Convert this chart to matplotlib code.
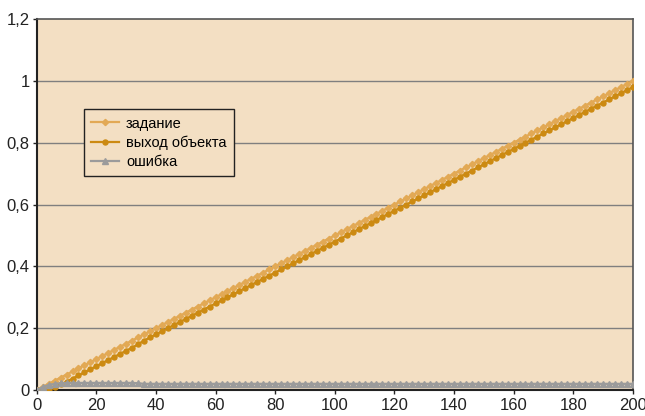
import matplotlib
matplotlib.use("Agg")
import matplotlib.pyplot as plt

plt.rcParams['font.family'] = ['Liberation Sans', 'DejaVu Sans']

# ось времени (шаг 2)
t = list(range(0, 201, 2))

# задание (линейный рост)
zadanie = [
    0.00, 0.01, 0.02, 0.03, 0.04, 0.05, 0.06, 0.07, 0.08, 0.09,
    0.10, 0.11, 0.12, 0.13, 0.14, 0.15, 0.16, 0.17, 0.18, 0.19,
    0.20, 0.21, 0.22, 0.23, 0.24, 0.25, 0.26, 0.27, 0.28, 0.29,
    0.30, 0.31, 0.32, 0.33, 0.34, 0.35, 0.36, 0.37, 0.38, 0.39,
    0.40, 0.41, 0.42, 0.43, 0.44, 0.45, 0.46, 0.47, 0.48, 0.49,
    0.50, 0.51, 0.52, 0.53, 0.54, 0.55, 0.56, 0.57, 0.58, 0.59,
    0.60, 0.61, 0.62, 0.63, 0.64, 0.65, 0.66, 0.67, 0.68, 0.69,
    0.70, 0.71, 0.72, 0.73, 0.74, 0.75, 0.76, 0.77, 0.78, 0.79,
    0.80, 0.81, 0.82, 0.83, 0.84, 0.85, 0.86, 0.87, 0.88, 0.89,
    0.90, 0.91, 0.92, 0.93, 0.94, 0.95, 0.96, 0.97, 0.98, 0.99,
    1.00,
]

# ошибка
oshibka = [
    0.000, 0.010, 0.016, 0.020, 0.022, 0.023, 0.023, 0.023, 0.023, 0.023,
    0.023, 0.023, 0.023, 0.023, 0.023, 0.023, 0.023, 0.022, 0.020, 0.020,
    0.020, 0.020, 0.020, 0.020, 0.020, 0.020, 0.020, 0.020, 0.020, 0.020,
    0.020, 0.020, 0.020, 0.020, 0.020, 0.020, 0.020, 0.020, 0.020, 0.020,
    0.020, 0.020, 0.020, 0.020, 0.020, 0.020, 0.020, 0.020, 0.020, 0.020,
    0.020, 0.020, 0.020, 0.020, 0.020, 0.020, 0.020, 0.020, 0.020, 0.020,
    0.020, 0.020, 0.020, 0.020, 0.020, 0.020, 0.020, 0.020, 0.020, 0.020,
    0.020, 0.020, 0.020, 0.020, 0.020, 0.020, 0.020, 0.020, 0.020, 0.020,
    0.020, 0.020, 0.020, 0.020, 0.020, 0.020, 0.020, 0.020, 0.020, 0.020,
    0.020, 0.020, 0.020, 0.020, 0.020, 0.020, 0.020, 0.020, 0.020, 0.020,
    0.020,
]

# выход объекта
vyhod = [
    0.000, 0.000, 0.004, 0.010, 0.018, 0.027, 0.037, 0.047, 0.057, 0.067,
    0.077, 0.087, 0.097, 0.107, 0.117, 0.127, 0.137, 0.148, 0.160, 0.170,
    0.180, 0.190, 0.200, 0.210, 0.220, 0.230, 0.240, 0.250, 0.260, 0.270,
    0.280, 0.290, 0.300, 0.310, 0.320, 0.330, 0.340, 0.350, 0.360, 0.370,
    0.380, 0.390, 0.400, 0.410, 0.420, 0.430, 0.440, 0.450, 0.460, 0.470,
    0.480, 0.490, 0.500, 0.510, 0.520, 0.530, 0.540, 0.550, 0.560, 0.570,
    0.580, 0.590, 0.600, 0.610, 0.620, 0.630, 0.640, 0.650, 0.660, 0.670,
    0.680, 0.690, 0.700, 0.710, 0.720, 0.730, 0.740, 0.750, 0.760, 0.770,
    0.780, 0.790, 0.800, 0.810, 0.820, 0.830, 0.840, 0.850, 0.860, 0.870,
    0.880, 0.890, 0.900, 0.910, 0.920, 0.930, 0.940, 0.950, 0.960, 0.970,
    0.980,
]

yticks = [0, 0.2, 0.4, 0.6, 0.8, 1.0, 1.2]
ylabels = ['0', '0,2', '0,4', '0,6', '0,8', '1', '1,2']
xticks = list(range(0, 201, 20))

fig = plt.figure(figsize=(6.45, 4.16), dpi=100)
ax = fig.add_axes([0.057, 0.0625, 0.924, 0.8915])
ax.set_facecolor('#F3DFC3')

for y in yticks[1:-1]:
    ax.axhline(y, color='#7f7f7f', lw=1.0, zorder=1)

ax.plot(t, zadanie, color='#E2A955', lw=1.6, marker='D', ms=3.2,
        label='задание', zorder=3)
ax.plot(t, vyhod, color='#CC8A12', lw=1.6, marker='o', ms=3.6,
        label='выход объекта', zorder=4)
ax.plot(t, oshibka, color='#9B9B9B', lw=1.6, marker='^', ms=4.2,
        label='ошибка', zorder=5)

ax.set_xlim(0, 200)
ax.set_ylim(0, 1.2)
ax.set_xticks(xticks)
ax.set_yticks(yticks)
ax.set_yticklabels(ylabels)
ax.tick_params(axis='both', labelsize=12, colors='#222222', length=3, width=1, pad=2)
ax.tick_params(axis='x', pad=3)

for side in ['left', 'bottom']:
    ax.spines[side].set_color('#222222')
    ax.spines[side].set_linewidth(1.5)
for side in ['top', 'right']:
    ax.spines[side].set_color('#555555')
    ax.spines[side].set_linewidth(1.2)

leg = ax.legend(loc='upper left', bbox_to_anchor=(0.079, 0.757), borderaxespad=0,
                fontsize=10.5, frameon=True, fancybox=False, handlelength=1.9,
                labelspacing=0.35, borderpad=0.5, handletextpad=0.5)
leg.get_frame().set_facecolor('#F3DFC3')
leg.get_frame().set_edgecolor('#222222')
leg.get_frame().set_linewidth(1.0)
leg.get_frame().set_alpha(1)

fig.savefig('out.png', dpi=100)
